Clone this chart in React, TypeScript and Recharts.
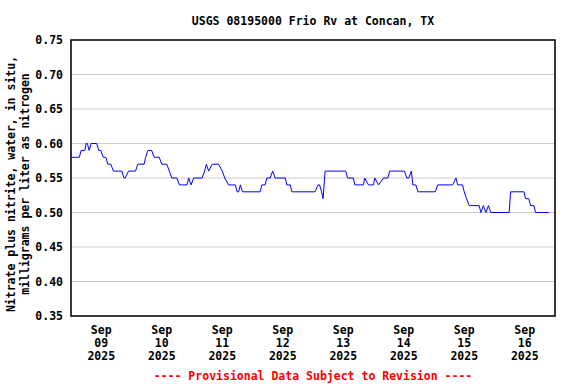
import { LineChart, Line, XAxis, YAxis, CartesianGrid, ReferenceArea } from 'recharts';

// hours since Sep 09 2025 00:00, and nitrate + nitrite (mg/L as N)
const hours = [
  0, 3.3, 4, 5.5, 6, 6.5, 7.2, 8, 10.2, 11, 11.8, 12.8, 13.8, 14.6, 15.8, 16.8, 20.2, 21, 21.5, 22.8,
  25.6, 26.5, 29, 29.6, 30.5, 32, 33, 35, 36, 38, 39, 40, 42, 43, 46, 46.7, 47.6, 48.7, 52, 53,
  53.7, 54.6, 56, 58.5, 60, 61, 62.5, 65.2, 65.9, 66.5, 67.2, 68, 75, 75.7, 77, 77.7, 79, 80, 81, 85,
  85.6, 87, 87.6, 96.8, 98, 98.6, 99.4, 100, 100.8, 109, 109.7, 112, 112.6, 116, 116.5, 118, 120, 120.5, 122, 124,
  125.7, 126.4, 132.3, 133.2, 134, 135, 135.6, 136.8, 137.6, 144.5, 145.5, 151.4, 152.7, 153.4, 155.3, 156, 156.9, 158, 161.9, 162.6,
  163.6, 164.6, 165.6, 166.5, 173.8, 174.4, 179.7, 180.3, 181.6, 182.3, 183.6, 184.3, 189.5,
];
const values = [
  0.58, 0.58, 0.59, 0.59, 0.6, 0.6, 0.59, 0.6, 0.6, 0.59, 0.59, 0.58, 0.58, 0.57, 0.57, 0.56, 0.56, 0.55, 0.55, 0.56,
  0.56, 0.57, 0.57, 0.58, 0.59, 0.59, 0.58, 0.58, 0.57, 0.57, 0.56, 0.55, 0.55, 0.54, 0.54, 0.55, 0.54, 0.55, 0.55, 0.56,
  0.57, 0.56, 0.57, 0.57, 0.56, 0.55, 0.54, 0.54, 0.53, 0.53, 0.54, 0.53, 0.53, 0.54, 0.54, 0.55, 0.55, 0.56, 0.55, 0.55,
  0.54, 0.54, 0.53, 0.53, 0.54, 0.54, 0.53, 0.52, 0.56, 0.56, 0.55, 0.55, 0.54, 0.54, 0.55, 0.54, 0.54, 0.55, 0.54, 0.55,
  0.55, 0.56, 0.56, 0.55, 0.55, 0.56, 0.54, 0.54, 0.53, 0.53, 0.54, 0.54, 0.55, 0.54, 0.54, 0.53, 0.52, 0.51, 0.51, 0.5,
  0.51, 0.5, 0.51, 0.5, 0.5, 0.53, 0.53, 0.52, 0.52, 0.51, 0.51, 0.5, 0.5,
];
const data = hours.map((h, i) => ({ h, v: values[i] }));

const dayStarts = [0, 24, 48, 72, 96, 120, 144, 168, 192];
const labelHours = [12, 36, 60, 84, 108, 132, 156, 180];
const monthLabel = 'Sep';
const dayLabels = ['09', '10', '11', '12', '13', '14', '15', '16'];
const yearLabel = '2025';
const yTicks = [0.35, 0.4, 0.45, 0.5, 0.55, 0.6, 0.65, 0.7, 0.75];

const FONT = '"DejaVu Sans Mono", monospace';

function DateTick({ x, y, payload }: any) {
  const i = labelHours.indexOf(payload.value);
  return (
    <text x={x} y={y} textAnchor="middle" fontFamily={FONT} fontWeight="bold" fontSize={11.5} fill="#000">
      <tspan x={x} dy={10}>{monthLabel}</tspan>
      <tspan x={x} dy={13}>{dayLabels[i]}</tspan>
      <tspan x={x} dy={13}>{yearLabel}</tspan>
    </text>
  );
}

function YLabel() {
  return (
    <text transform="translate(15,184) rotate(-90)" textAnchor="middle" fontFamily={FONT} fontWeight="bold" fontSize={11.5} fill="#000">
      <tspan x={0} dy={0}>Nitrate plus nitrite, water, in situ,</tspan>
      <tspan x={0} dy={14}>milligrams per liter as nitrogen</tspan>
    </text>
  );
}

const textStyle = {
  position: 'absolute' as const,
  left: 50,
  width: 526,
  height: 14,
  lineHeight: '14px',
  textAlign: 'center' as const,
  fontFamily: FONT,
  fontWeight: 'bold' as const,
  fontSize: 11.5,
};

export default function App() {
  return (
    <div style={{ position: 'absolute', left: 0, top: 0, width: 576, height: 384, background: '#fff' }}>
      <div style={{ ...textStyle, top: 14, color: '#000' }}>USGS 08195000 Frio Rv at Concan, TX</div>
      <LineChart width={576} height={384} data={data} margin={{ top: 40, right: 21, bottom: 18, left: 0 }}>
        <CartesianGrid xAxisId="days" stroke="#cccccc" />
        <XAxis
          xAxisId="days"
          dataKey="h"
          type="number"
          domain={[0, 192]}
          ticks={dayStarts}
          tick={false}
          tickLine={false}
          axisLine={false}
          height={0}
        />
        <XAxis
          xAxisId="lab"
          dataKey="h"
          type="number"
          domain={[0, 192]}
          ticks={labelHours}
          tick={<DateTick />}
          tickLine={false}
          axisLine={false}
          height={50}
          interval={0}
        />
        <YAxis
          domain={[0.35, 0.75]}
          ticks={yTicks}
          width={71}
          tickLine={false}
          axisLine={false}
          tickFormatter={(v) => v.toFixed(2)}
          tick={{ fontSize: 11.5, fontFamily: FONT, fontWeight: 'bold', fill: '#000' }}
          label={{ content: () => <YLabel /> }}
        />
        <Line
          xAxisId="lab"
          type="linear"
          dataKey="v"
          stroke="#0000ff"
          strokeWidth={1}
          dot={false}
          isAnimationActive={false}
        />
        <ReferenceArea xAxisId="lab" x1={0} x2={192} y1={0.35} y2={0.75} fill="none" stroke="#000" strokeWidth={1.5} ifOverflow="visible" />
      </LineChart>
      <div style={{ ...textStyle, top: 369, color: '#ff0000' }}>---- Provisional Data Subject to Revision ----</div>
    </div>
  );
}
